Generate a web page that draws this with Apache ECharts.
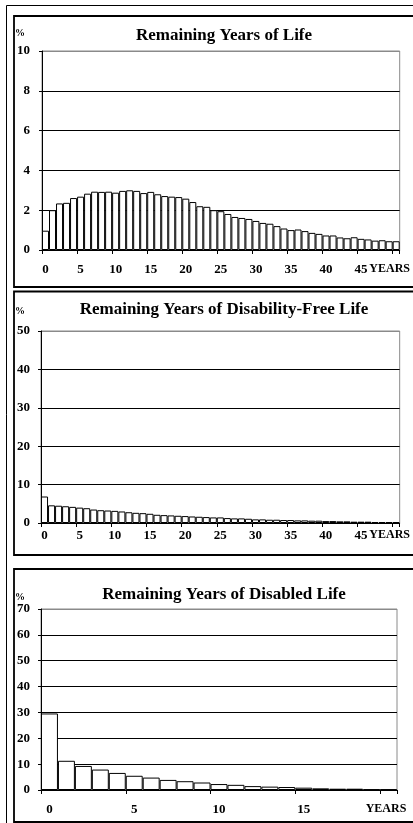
<!DOCTYPE html>
<html>
<head>
<meta charset="utf-8">
<script src="https://cdn.jsdelivr.net/npm/echarts@6/dist/echarts.min.js"></script>
<style>
html,body{margin:0;padding:0;background:#fff;}
#c{width:413px;height:823px;}
</style>
</head>
<body>
<div id="c"></div>
<script>
// ---- data ----
const yearsLong = ['0','1','2','3','4','5','6','7','8','9','10','11','12','13','14','15','16','17','18','19','20','21','22','23','24','25','26','27','28','29','30','31','32','33','34','35','36','37','38','39','40','41','42','43','44','45','46','47','48','49','50'];
const yearsShort = ['0','1','2','3','4','5','6','7','8','9','10','11','12','13','14','15','16','17','18','19','20'];

const lifePct = [0.97,2.0,2.34,2.37,2.61,2.68,2.83,2.93,2.92,2.93,2.88,2.97,3.0,2.97,2.86,2.92,2.8,2.71,2.68,2.66,2.58,2.41,2.2,2.17,2.0,1.95,1.81,1.66,1.61,1.56,1.46,1.36,1.32,1.2,1.08,1.0,1.03,0.95,0.86,0.81,0.73,0.73,0.63,0.59,0.64,0.56,0.53,0.47,0.49,0.44,0.44];
const disFreePct = [6.9,4.6,4.5,4.36,4.2,4.0,3.85,3.5,3.33,3.25,3.16,3.0,2.8,2.65,2.56,2.4,2.14,2.05,1.97,1.88,1.8,1.7,1.62,1.54,1.45,1.45,1.28,1.2,1.2,1.1,0.94,0.94,0.85,0.85,0.77,0.77,0.68,0.68,0.6,0.6,0.5,0.5,0.43,0.43,0.34,0.34,0.34,0.26,0.26,0.26,0.26];
const disabledPct = [29.6,11.3,9.3,7.9,6.6,5.5,4.8,3.9,3.4,2.9,2.3,2.0,1.5,1.3,1.15,0.9,0.64,0.5,0.5,0.25,0.25];

const titles = ['Remaining Years of Life','Remaining Years of Disability-Free Life','Remaining Years of Disabled Life'];
const yMax = [10, 50, 70];
const yStep = [2, 10, 10];
const unitLabel = '%';
const axisEndLabel = 'YEARS';

// ---- layout ----
const FONT = '"Liberation Serif","Times New Roman",serif';
const grids = [
  {left:42, top:51, width:360, height:199},
  {left:41, top:331, width:359, height:192},
  {left:41, top:609, width:356, height:181}
];
const labelMargins = [13, 6, 13];
const yearsShift = [13, 13, 5];
const yLabelMargin = [12, 11, 11];
const panels = [
  {y:16, h:271, titleY:36, pctY:33},
  {y:291.5, h:263.5, titleY:310, pctY:311},
  {y:569, h:253, titleY:595, pctY:597}
];
const cats = [yearsLong, yearsLong, yearsShort];
const vals = [lifePct, disFreePct, disabledPct];

function splitColors(n){
  const arr = [];
  for(let i=0;i<n;i++) arr.push('#000');
  arr.push('#8a8a8a');
  return arr;
}

const xAxes = [], yAxes = [], series = [];
for(let k=0;k<3;k++){
  const last = cats[k][cats[k].length-1];
  xAxes.push({
    type:'category', gridIndex:k, data:cats[k], boundaryGap:true,
    axisLine:{show:true, lineStyle:{color:'#000', width:1}},
    axisTick:{show:true, interval:4, length:4, lineStyle:{color:'#000'}},
    axisLabel:{
      interval:4, margin:labelMargins[k], color:'#000', fontFamily:FONT, fontWeight:'bold', fontSize:13,
      formatter:function(v){ return v===last ? '{y|'+axisEndLabel+'}' : v; },
      rich:{y:{fontFamily:FONT, fontWeight:'bold', fontSize:12, color:'#000', padding:[0,yearsShift[k],0,0]}}
    },
    splitLine:{show:false}
  });
  yAxes.push({
    type:'value', gridIndex:k, min:0, max:yMax[k], interval:yStep[k],
    axisLine:{show:true, lineStyle:{color:'#000', width:1}},
    axisTick:{show:true, length:3, lineStyle:{color:'#000'}},
    axisLabel:{margin:yLabelMargin[k], color:'#000', fontFamily:FONT, fontWeight:'bold', fontSize:13},
    splitLine:{show:true, lineStyle:{color:splitColors(yMax[k]/yStep[k]), width:1}}
  });
  series.push({
    type:'bar', xAxisIndex:k, yAxisIndex:k, data:vals[k],
    barCategoryGap:'0%', barGap:'0%',
    itemStyle:{color:'#fff', borderColor:'#000', borderWidth:1},
    silent:true, animation:false
  });
}

const graphics = [];
// outer frame
graphics.push({type:'polyline', shape:{points:[[6.5,823],[6.5,5.5],[413,5.5]]}, style:{stroke:'#000', lineWidth:1, fill:null}, z:10});
for(let k=0;k<3;k++){
  const p = panels[k];
  graphics.push({type:'rect', shape:{x:14, y:p.y, width:430, height:p.h}, style:{fill:null, stroke:'#000', lineWidth:1.8}, z:10});
  graphics.push({type:'text', x:224, y:p.titleY, style:{text:titles[k], font:'bold 17px '+FONT, fill:'#000', textAlign:'center', textVerticalAlign:'middle'}, z:10});
  graphics.push({type:'text', x:15, y:p.pctY, style:{text:unitLabel, font:'bold 10px '+FONT, fill:'#000', textAlign:'left', textVerticalAlign:'middle'}, z:10});
}

const chart = echarts.init(document.getElementById('c'), null, {renderer:'canvas'});
chart.setOption({
  animation:false,
  backgroundColor:'#fff',
  grid: grids.map(g => Object.assign({show:true, borderColor:'#8a8a8a', borderWidth:1, backgroundColor:'transparent', containLabel:false}, g)),
  xAxis:xAxes,
  yAxis:yAxes,
  series:series,
  graphic:graphics
});
</script>
</body>
</html>
